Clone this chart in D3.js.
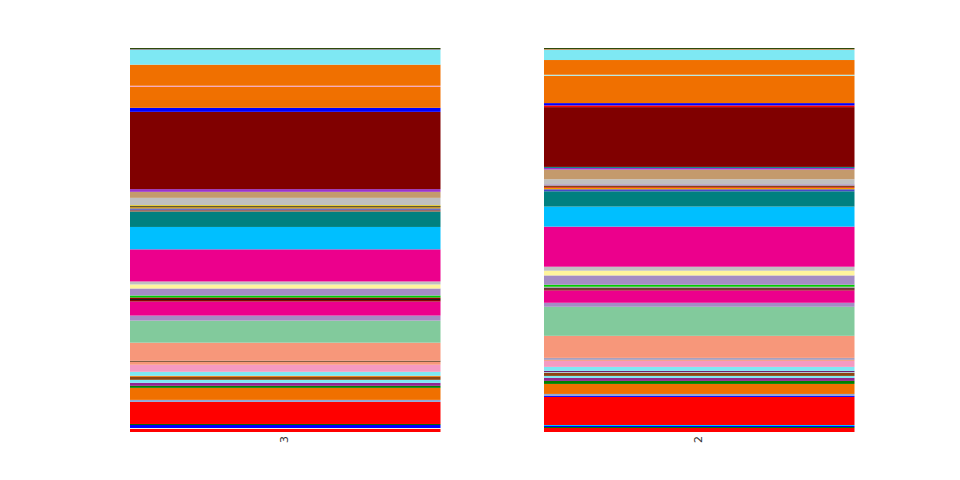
<!DOCTYPE html>
<html>
<head>
<meta charset="utf-8">
<script src="https://cdn.jsdelivr.net/npm/d3@7"></script>
<style>
  html, body { margin: 0; padding: 0; background: #ffffff; }
  svg { display: block; }
</style>
</head>
<body>
<svg id="chart" width="960" height="480"></svg>
<script>
// Bars (x categories)
const bars = ["3", "2"];

// Stack categories, bottom to top
const categories = [
  "A01","A02","A03","A04","A05","A06","A07","A08","A09","A10",
  "A11","A12","A13","A14","A15","A16","A17","A18","A19","A20",
  "A21","A22","A23","A24","A25","A26","A27","A28","A29","A30",
  "A31","A32","A33","A34","A35","A36","A37","A38","A39","A40",
  "A41","A42","A43","A44","A45","A46","A47","A48","A49","A50",
  "A51","A52","A53","A54","A55","A56","A57","A58","A59","A60","A61"
];

// Segment colours, same order as categories
const colors = [
  "#ff0000","#f0f0f0","#008000","#0000ff","#00bfff","#006400","#ff0000","#0000ff","#8fa7d6","#f07000",
  "#008000","#92278f","#7ee8f3","#8b4513","#b0f0f0","#f07000","#702070","#7ee8f3","#f49ac2","#f7977a",
  "#5a3214","#a8a0c0","#f7977a","#82ca9c","#a48cc4","#ec008c","#8b0000","#1a1a1a","#8b0000","#a0a0a0",
  "#00cc00","#a48cc4","#fff59d","#c0c0c0","#ec008c","#00bfff","#008080","#a0522d","#4848c8","#808080",
  "#f0a000","#e00000","#8b4513","#1a1a1a","#e8c800","#a48cc4","#c0c0c0","#c49a6c","#9932cc","#008080",
  "#800000","#ff0000","#0000ff","#f07000","#f49ac2","#a0f0f0","#f07000","#7ee8f3","#a48cc4","#c49a6c","#2e4a0a"
];

// Values for bar "3"
const values3 = [
  3, 1, 0, 3, 0, 1, 22, 0, 2, 12,
  2, 3, 3, 3, 0, 1, 0, 4, 7, 3,
  1, 0, 18, 22, 5, 14, 1.5, 1, 1.5, 0,
  2, 7, 4, 3, 32, 22.3, 15.4, 1.3, 1, 1,
  1, 0, 0, 1, 1, 0, 7.3, 6, 2.7, 0,
  77, 0, 4, 21, 1, 0, 21, 14.7, 0.6, 0, 1.3
];

// Values for bar "2"
const values2 = [
  4, 0, 1, 1, 1, 0, 28, 1, 2, 10,
  3, 3, 2, 3, 0.7, 0, 1.3, 4, 6, 1,
  0, 2, 22, 29, 4, 12.3, 1.2, 1, 0.5, 1,
  2, 9.3, 4.7, 4, 40, 20, 15.3, 0, 2, 0,
  1.5, 0.7, 1.5, 0, 0, 1.3, 5, 9.7, 1.6, 1,
  59.7, 1.7, 2.3, 27.3, 0, 1, 14.7, 10, 0, 1, 1
];

const seriesValues = { "3": values3, "2": values2 };

const rows = bars.map(b => {
  const r = { bar: b };
  categories.forEach((c, i) => { r[c] = seriesValues[b][i]; });
  return r;
});

const svg = d3.select("#chart");

const x = d3.scaleBand()
  .domain(bars)
  .range([26.5, 958])
  .paddingInner(0.25)
  .paddingOuter(0.25);

const y = d3.scaleLinear()
  .domain([0, 1])
  .range([432, 48]);

const color = d3.scaleOrdinal().domain(categories).range(colors);

const stack = d3.stack()
  .keys(categories)
  .offset(d3.stackOffsetExpand);

const layers = stack(rows);

svg.append("g")
  .selectAll("g")
  .data(layers)
  .join("g")
  .attr("fill", d => color(d.key))
  .selectAll("rect")
  .data(d => d)
  .join("rect")
  .attr("x", d => x(d.data.bar))
  .attr("width", x.bandwidth())
  .attr("y", d => y(d[1]))
  .attr("height", d => Math.max(0, y(d[0]) - y(d[1])));

const xAxis = svg.append("g")
  .attr("transform", "translate(0,432)")
  .call(d3.axisBottom(x).tickSize(0).tickPadding(0));

xAxis.select(".domain").remove();
xAxis.selectAll("text")
  .attr("transform", "translate(-1,4) rotate(-90)")
  .attr("x", 0)
  .attr("y", 0)
  .attr("dy", "0.35em")
  .attr("text-anchor", "end")
  .attr("fill", "#333")
  .style("font-family", "DejaVu Sans, sans-serif")
  .style("font-size", "11px");
</script>
</body>
</html>
